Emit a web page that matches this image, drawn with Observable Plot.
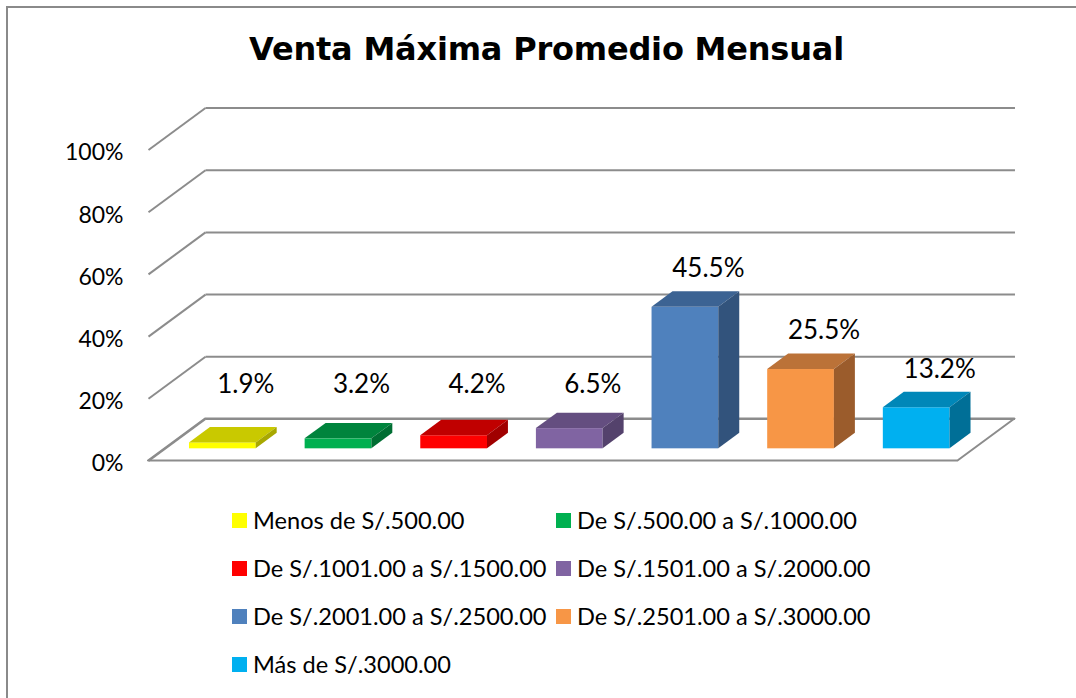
<!DOCTYPE html>
<html><head><meta charset="utf-8">
<script src="https://cdn.jsdelivr.net/npm/d3@7"></script>
<script src="https://cdn.jsdelivr.net/npm/@observablehq/plot@0.6"></script>
<style>
html,body{margin:0;padding:0;background:#fff;width:1076px;height:698px;overflow:hidden;}
#frame{position:absolute;left:6px;top:6px;width:1200px;height:900px;border-left:2px solid #8a8a8a;border-top:2px solid #8a8a8a;}
#title{position:absolute;left:0;width:1093px;top:33px;text-align:center;font:bold 32px "DejaVu Sans";letter-spacing:-0.2px;line-height:32px;color:#000;white-space:nowrap;}
#chart{position:absolute;left:0;top:0;}
#legend{position:absolute;left:232px;top:496px;display:grid;grid-template-columns:324px auto;grid-auto-rows:48px;font:23.6px Lato;color:#000;}
.item{display:flex;align-items:center;white-space:nowrap;}
.sw{width:15px;height:15px;margin-right:6px;flex:none;}
</style></head><body>
<div id="frame"></div>
<div id="title">Venta Máxima Promedio Mensual</div>
<div id="chart"></div>
<div id="legend"></div>
<script>
const categories = ["Menos de S/.500.00", "De S/.500.00 a S/.1000.00", "De S/.1001.00 a S/.1500.00", "De S/.1501.00 a S/.2000.00", "De S/.2001.00 a S/.2500.00", "De S/.2501.00 a S/.3000.00", "Más de S/.3000.00"];
const values = [1.9, 3.2, 4.2, 6.5, 45.5, 25.5, 13.2];
const yTicks = [0, 20, 40, 60, 80, 100];
const frontColors = ["#FFFF00", "#00B050", "#FF0000", "#8064A2", "#4F81BD", "#F79646", "#00B0F0"];
const topColors = ["#C9C900", "#00843D", "#C00000", "#644E80", "#3C6393", "#BB7238", "#0087B8"];
const sideColors = ["#A8A800", "#006E33", "#A00000", "#54426C", "#32537C", "#9B5C2C", "#006F97"];

// oblique projection constants (depth offsets in data units)
const PXX = 115.64, PXY = 3.11;
const KX = 57 / PXX, KY = 42 / PXY;
const Z0 = 0.29, Z1 = 0.658, W = 0.577;
const n = categories.length;
const bars = categories.map((c, i) => ({c, i, v: values[i], a: i + 0.5 - W / 2, b: i + 0.5 + W / 2}));
const topPts = bars.flatMap(d => [Z0, Z1].map(z => ({i: d.i, y: d.v + z * KY, x1: d.a + z * KX, x2: d.b + z * KX})));
const sidePts = bars.flatMap(d => [Z0, Z1].map(z => ({i: d.i, x: d.b + z * KX, y1: z * KY, y2: d.v + z * KY})));
const floor = [{y: 0, x1: 0, x2: n}, {y: KY, x1: KX, x2: n + KX}];
const grid = "#8c8c8c";

const chart = Plot.plot({
  width: 1076, height: 480,
  marginLeft: 148, marginRight: 60, marginTop: 100, marginBottom: 19,
  x: {type: "linear", domain: [0, n + KX], range: [148, 148 + (n + KX) * PXX], axis: null},
  y: {type: "linear", domain: [0, 100 + KY], range: [460.5, 460.5 - (100 + KY) * PXY]},
  color: {type: "identity"},
  style: {fontFamily: "Lato", fontSize: "23px", color: "#000", background: "transparent", overflow: "visible"},
  marks: [
    Plot.areaX(floor, {y: "y", x1: "x1", x2: "x2", fill: "white", stroke: grid, strokeWidth: 2}),
    Plot.link(yTicks, {x1: () => 0, y1: d => d, x2: () => KX, y2: d => d + KY, stroke: grid, strokeWidth: 2}),
    Plot.link(yTicks, {x1: () => KX, x2: () => n + KX, y1: d => d + KY, y2: d => d + KY, stroke: grid, strokeWidth: 2}),
    Plot.rect(bars, {x1: d => d.a + Z0 * KX, x2: d => d.b + Z0 * KX, y1: () => Z0 * KY, y2: d => d.v + Z0 * KY, fill: d => frontColors[d.i]}),
    Plot.areaX(topPts, {y: "y", x1: "x1", x2: "x2", z: "i", fill: d => topColors[d.i]}),
    Plot.areaY(sidePts, {x: "x", y1: "y1", y2: "y2", z: "i", fill: d => sideColors[d.i]}),
    Plot.text(bars, {x: d => d.i + 0.5 + Z1 * KX, y: d => Math.max(d.v, 8.4) + Z1 * KY, text: d => d.v.toFixed(1) + "%", fontSize: 26, dy: -23, dx: 2, fill: "#000"}),
    Plot.axisY({ticks: yTicks, tickFormat: d => d + "%", tickSize: 0, tickPadding: 25, fontSize: 23, dy: 3, label: null, fill: "#000"})
  ]
});
document.getElementById("chart").append(chart);

const legend = d3.select("#legend");
categories.forEach((c, i) => {
  const it = legend.append("div").attr("class", "item");
  it.append("div").attr("class", "sw").style("background", frontColors[i]);
  it.append("span").text(c);
});
</script></body></html>
